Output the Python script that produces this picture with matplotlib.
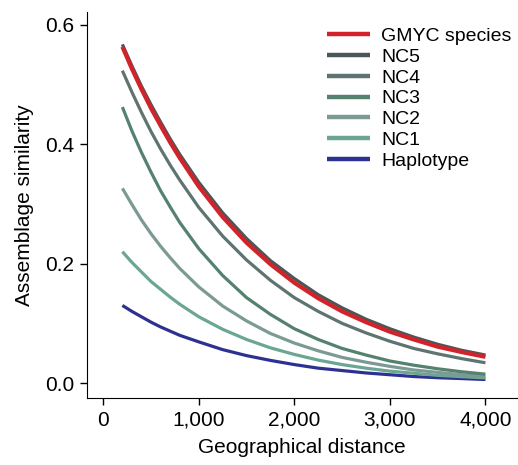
import matplotlib
matplotlib.use("Agg")
import matplotlib.pyplot as plt
from matplotlib.lines import Line2D
from matplotlib.ticker import FuncFormatter

plt.rcParams['font.family'] = ['Liberation Sans', 'DejaVu Sans']

distance = [200, 300, 400, 500, 600, 700, 800, 1000, 1250, 1500, 1750, 2000,
            2250, 2500, 2750, 3000, 3250, 3500, 3750, 4000]

gmyc = [0.563, 0.526, 0.492, 0.460, 0.431, 0.403, 0.377, 0.329, 0.278, 0.235, 0.199, 0.168,
        0.142, 0.120, 0.102, 0.086, 0.073, 0.061, 0.052, 0.044]
nc5 = [0.567, 0.531, 0.497, 0.466, 0.437, 0.409, 0.383, 0.336, 0.285, 0.242, 0.205, 0.175,
       0.148, 0.126, 0.107, 0.091, 0.077, 0.065, 0.055, 0.047]
nc4 = [0.523, 0.487, 0.453, 0.421, 0.392, 0.365, 0.340, 0.294, 0.246, 0.206, 0.172, 0.143,
       0.120, 0.100, 0.084, 0.070, 0.058, 0.049, 0.041, 0.034]
nc3 = [0.462, 0.422, 0.386, 0.353, 0.322, 0.295, 0.269, 0.225, 0.180, 0.143, 0.115, 0.091,
       0.073, 0.058, 0.047, 0.037, 0.030, 0.024, 0.019, 0.015]
nc2 = [0.326, 0.299, 0.273, 0.250, 0.229, 0.210, 0.192, 0.161, 0.129, 0.104, 0.083, 0.067,
       0.054, 0.043, 0.035, 0.028, 0.022, 0.018, 0.014, 0.0115]
nc1 = [0.220, 0.202, 0.186, 0.170, 0.157, 0.144, 0.132, 0.111, 0.090, 0.073, 0.059, 0.048,
       0.0385, 0.031, 0.025, 0.020, 0.0165, 0.013, 0.0108, 0.0087]
haplotype = [0.130, 0.120, 0.111, 0.102, 0.094, 0.087, 0.080, 0.069, 0.056, 0.046, 0.038, 0.031,
             0.025, 0.021, 0.017, 0.014, 0.011, 0.009, 0.0076, 0.006]

labels = ["GMYC species", "NC5", "NC4", "NC3", "NC2", "NC1", "Haplotype"]
colors = ["#d2232a", "#4b5658", "#5e7471", "#55816f", "#7b9a94", "#6ba693", "#2e3192"]

fig = plt.figure(figsize=(5.18, 4.65), dpi=100)
ax = fig.add_axes([0.168, 0.144, 0.83, 0.830])

series = [gmyc, nc5, nc4, nc3, nc2, nc1, haplotype]
# draw back to front so the red one stays on top
for i in range(len(series) - 1, -1, -1):
    lw = 3.0 if i == 0 else 2.3
    ax.plot(distance, series[i], color=colors[i], lw=lw, solid_capstyle="butt")

ax.set_xlim(-170, 4330)
ax.set_ylim(-0.025, 0.621)
ax.set_xticks([0, 1000, 2000, 3000, 4000])
ax.set_yticks([0.0, 0.2, 0.4, 0.6])
ax.xaxis.set_major_formatter(FuncFormatter(lambda v, p: f"{int(v):,}"))
ax.yaxis.set_major_formatter(FuncFormatter(lambda v, p: f"{v:.1f}"))

ax.spines["top"].set_visible(False)
ax.spines["right"].set_visible(False)
ax.tick_params(direction="out", length=5, width=1, labelsize=15, pad=4)
ax.set_xlabel("Geographical distance", fontsize=15, labelpad=6)
ax.set_ylabel("Assemblage similarity", fontsize=15, labelpad=8)

# legend keys are drawn a bit thicker than the curves
handles = [Line2D([], [], color=c, lw=3.2, solid_capstyle="butt") for c in colors]
ax.legend(handles, labels, loc="upper left", bbox_to_anchor=(0.612, 0.962),
          bbox_transform=fig.transFigure, frameon=False, fontsize=14,
          handlelength=2.2, handletextpad=0.6, labelspacing=0.165, borderpad=0)

fig.savefig("out.png", dpi=100)
